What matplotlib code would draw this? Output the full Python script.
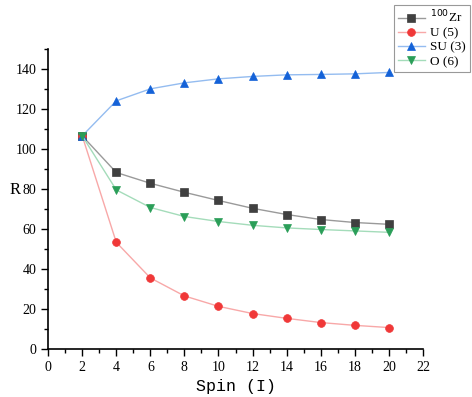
import numpy as np
import matplotlib.pyplot as plt
from matplotlib.ticker import MultipleLocator

spin = [2, 4, 6, 8, 10, 12, 14, 16, 18, 20]
r_zr = [106.5, 88.2, 82.8, 78.3, 74.2, 70.3, 67.2, 64.7, 63.2, 62.3]
r_u5 = [106.5, 53.3, 35.5, 26.5, 21.3, 17.7, 15.3, 13.2, 11.8, 10.7]
r_su3 = [106.5, 124.0, 130.0, 133.0, 135.0, 136.2, 137.0, 137.2, 137.5, 138.2]
r_o6 = [106.5, 79.5, 70.7, 66.2, 63.7, 61.8, 60.5, 59.7, 59.0, 58.3]

plt.rcParams['font.family'] = ['Liberation Serif', 'DejaVu Serif']

fig = plt.figure(figsize=(4.72, 3.97), dpi=100)
ax = fig.add_axes([0.102, 0.121, 0.794, 0.756])

# (label, data, marker color, line color, marker)
series = [
    (r'$^{100}$Zr', r_zr, '#404040', '#9a9a9a', 's'),
    ('U (5)', r_u5, '#f03838', '#f8a8a8', 'o'),
    ('SU (3)', r_su3, '#1462d8', '#94bcf0', '^'),
    ('O (6)', r_o6, '#2a9e58', '#a4dcba', 'v'),
]
for lab, y, mc, lc, mk in series:
    ax.plot(spin, y, '-', color=lc, lw=1.0, marker=mk, ms=5.6,
            mfc=mc, mec=mc, mew=0.5, label=lab)

ax.set_xlim(0, 22)
ax.set_ylim(0, 150)
ax.xaxis.set_major_locator(MultipleLocator(2))
ax.xaxis.set_minor_locator(MultipleLocator(1))
ax.yaxis.set_major_locator(MultipleLocator(20))
ax.yaxis.set_minor_locator(MultipleLocator(10))
ax.tick_params(which='major', direction='out', length=5, width=1, labelsize=10)
ax.tick_params(which='minor', direction='out', length=3, width=1)
ax.spines['top'].set_visible(False)
ax.spines['right'].set_visible(False)
ax.spines['left'].set_linewidth(1.2)
ax.spines['bottom'].set_linewidth(1.2)

ax.set_xlabel('Spin (I)', fontsize=12, family=['Liberation Mono', 'DejaVu Sans Mono'])
ax.set_ylabel('R', fontsize=12, rotation=0, va='center', ha='center')
ax.yaxis.set_label_coords(-0.088, 0.53)

leg = fig.legend(loc='upper right', bbox_to_anchor=(0.995, 0.988), fontsize=9.5,
                 frameon=True, fancybox=False, edgecolor='#808080',
                 handlelength=2.0, borderpad=0.3, labelspacing=0.15,
                 handletextpad=0.4, borderaxespad=0)
leg.get_frame().set_linewidth(0.8)

fig.savefig('out.png', dpi=100)
